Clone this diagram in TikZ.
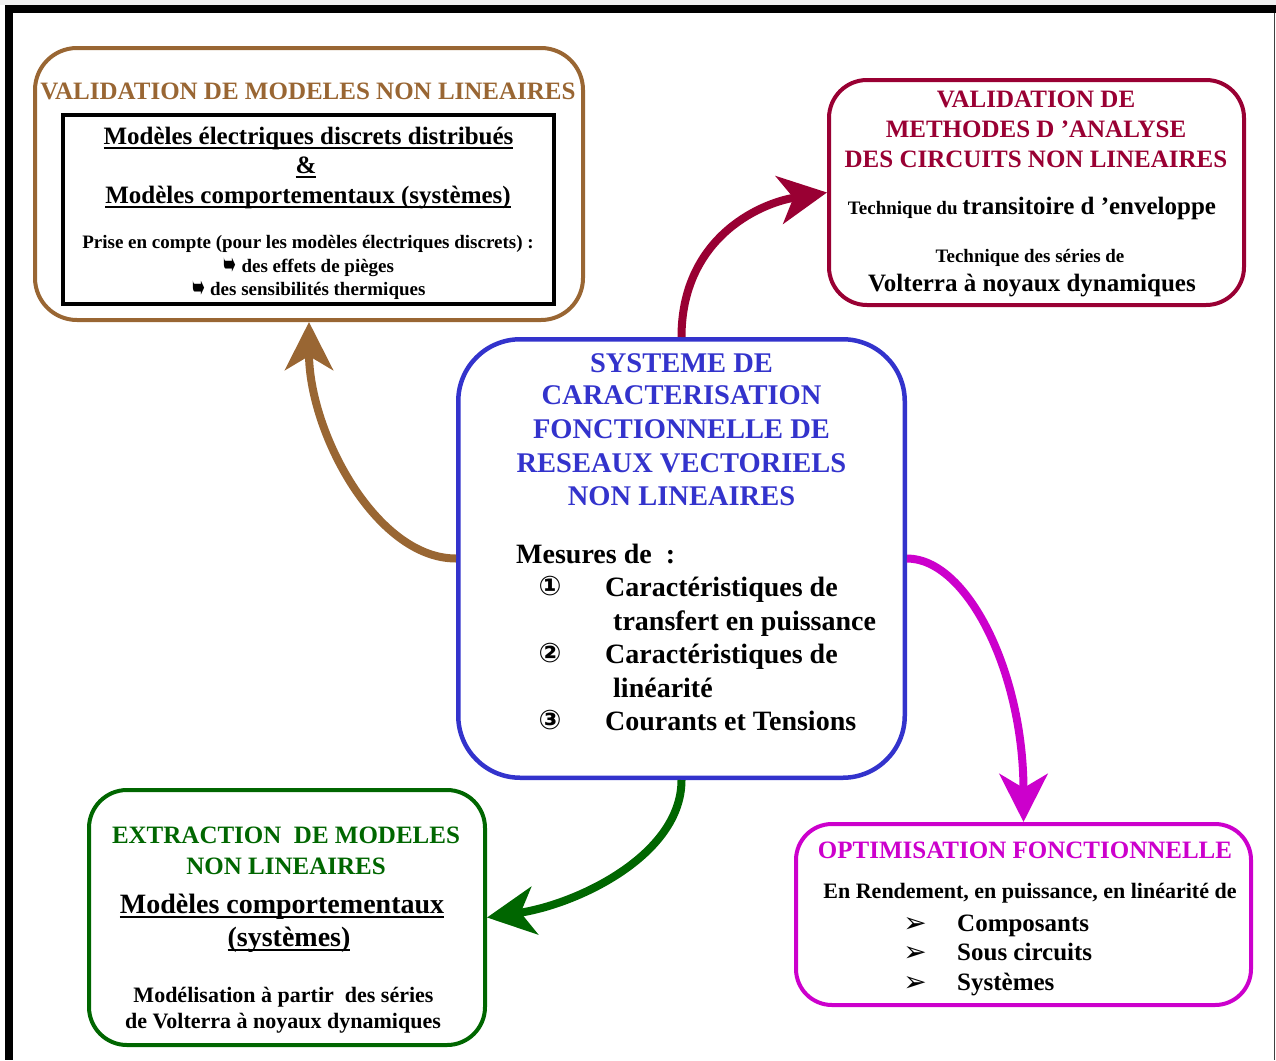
\documentclass[tikz,border=0pt]{standalone}
\usepackage{fontspec}
\usepackage{graphicx}
\setmainfont{Liberation Serif}
\newfontfamily\dvs{DejaVu Sans}
\usetikzlibrary{arrows.meta}
\definecolor{brownc}{RGB}{153,102,51}
\definecolor{redc}{RGB}{153,0,51}
\definecolor{bluec}{RGB}{51,51,204}
\definecolor{greenc}{RGB}{0,102,0}
\definecolor{magc}{RGB}{204,0,204}
\newcommand\fs[1]{\fontsize{#1}{#1}\selectfont}
\newcommand\myul[1]{\setbox0=\hbox{#1}\rlap{\rule[-4.5pt]{\wd0}{2pt}}\box0}
\newcommand\hook{{\dvs\bfseries\fs{22}\raisebox{-3pt}{\scalebox{0.7}[1.5]{➥}}}}
\tikzset{
  box/.style={draw, rounded corners=#1, line width=4pt, inner sep=0pt},
  s19/.style={inner sep=0pt, anchor=base, font=\bfseries\fs{19}},
  s22/.style={inner sep=0pt, anchor=base, font=\bfseries\fs{22}},
  s25/.style={inner sep=0pt, anchor=base, font=\bfseries\fs{25}},
  s28/.style={inner sep=0pt, anchor=base, font=\bfseries\fs{28}},
  s28w/.style={inner sep=0pt, anchor=base west, font=\bfseries\fs{28}},
  s25w/.style={inner sep=0pt, anchor=base west, font=\bfseries\fs{25}},
  btitle/.style={inner sep=0pt, anchor=base, font=\bfseries\fs{28.5}, text=bluec},
  num/.style={inner sep=0pt, anchor=base, font=\dvs\bfseries\fs{27}},
  arr/.style={inner sep=0pt, anchor=base, font=\dvs\bfseries\fs{28}},
  conn/.style={line width=8pt, -{Stealth[length=48pt,width=48pt,inset=14pt]}},
}
\begin{document}
\begin{tikzpicture}[x=1pt,y=-1pt]
\useasboundingbox (0,0) rectangle (1276,1060);
% frame
\fill[gray!12] (0,0) rectangle (1276,5);
\fill[black] (5,5) rectangle (1276,13);
\fill[black] (5,5) rectangle (13,1060);
\draw[line width=1.5pt, black!75] (1274.5,13) -- (1274.5,1060);

% boxes
\node[box=42pt, draw=brownc, minimum width=548pt, minimum height=272pt] (brown) at (309,184) {};
\node[draw=black, line width=4pt, inner sep=0pt, minimum width=491pt, minimum height=189pt] (inner) at (308.5,209.5) {};
\node[box=38pt, draw=redc, minimum width=415pt, minimum height=225pt] (red) at (1036.5,192.5) {};
\node[box=62pt, draw=bluec, line width=4.5pt, minimum width=446.5pt, minimum height=438.5pt] (blue) at (681.5,558.5) {};
\node[box=38pt, draw=greenc, minimum width=396pt, minimum height=255pt] (green) at (287,917.5) {};
\node[box=36pt, draw=magc, minimum width=455pt, minimum height=181pt] (mag) at (1023.5,914.5) {};

% brown box texts
\node[s25, text=brownc] (tb0) at (308,99) {VALIDATION DE MODELES NON LINEAIRES};
\node[s25] (tb1) at (308.5,144) {\myul{Modèles électriques discrets distribués}};
\node[s25] (tb2) at (306,173) {\myul{\&}};
\node[s25] (tb3) at (308,203) {\myul{Modèles comportementaux (systèmes)}};
\node[s19] (tb4) at (308,248) {Prise en compte (pour les modèles électriques discrets) :};
\node[s19] (tb5) at (309,272) {\hook\ des effets de pièges};
\node[s19] (tb6) at (309,295) {\hook\ des sensibilités thermiques};

% red box texts
\node[s25, text=redc] (tr0) at (1036,107) {VALIDATION DE};
\node[s25, text=redc] (tr1) at (1036,137) {METHODES D ’ANALYSE};
\node[s25, text=redc] (tr2) at (1036,167) {DES CIRCUITS NON LINEAIRES};
\node[s19] (tr3) at (1032,214) {Technique du {\fs{25}transitoire d ’enveloppe}};
\node[s19] (tr4) at (1030,262) {Technique des séries de};
\node[s25] (tr5) at (1032,291) {Volterra à noyaux dynamiques};

% blue box texts
\node[btitle] (tc0) at (681.5,372) {SYSTEME DE};
\node[btitle] (tc1) at (681.5,404) {CARACTERISATION};
\node[btitle] (tc2) at (681.5,438) {FONCTIONNELLE DE};
\node[btitle] (tc3) at (681.5,472) {RESEAUX VECTORIELS};
\node[btitle] (tc4) at (681.5,505) {NON LINEAIRES};
\node[s28w] (tm) at (516,563) {Mesures de\ \ :};
\node[num] (n1) at (550,595) {①};
\node[s28w] (c1a) at (605,596) {Caractéristiques de};
\node[s28w] (c1b) at (613,630) {transfert en puissance};
\node[num] (n2) at (550,662) {②};
\node[s28w] (c2a) at (605,663) {Caractéristiques de};
\node[s28w] (c2b) at (613,697) {linéarité};
\node[num] (n3) at (550,729) {③};
\node[s28w] (c3a) at (605,730) {Courants et Tensions};

% green box texts
\node[s25, text=greenc] (tg0) at (286,843) {EXTRACTION\ \ DE MODELES};
\node[s25, text=greenc] (tg1) at (286,874) {NON LINEAIRES};
\node[s28] (tg2) at (282,913) {\myul{Modèles comportementaux}};
\node[s28] (tg3) at (289,946) {\myul{(systèmes)}};
\node[s22] (tg4) at (283.5,1002) {Modélisation à partir\ \ des séries};
\node[s22] (tg5) at (283,1028) {de Volterra à noyaux dynamiques};

% magenta box texts
\node[s25, text=magc] (tm0) at (1025,858) {OPTIMISATION FONCTIONNELLE};
\node[s22] (tm1) at (1030,898) {En Rendement, en puissance, en linéarité de};
\node[arr] (a1) at (915,932) {➢};
\node[s25w] (m1) at (957,931) {Composants};
\node[arr] (a2) at (915,961) {➢};
\node[s25w] (m2) at (957,960) {Sous circuits};
\node[arr] (a3) at (915,991) {➢};
\node[s25w] (m3) at (957,990) {Systèmes};

% connectors
\draw[conn, brownc] (blue.west) .. controls +(-80,0) and +(0,110) .. (brown.south);
\draw[conn, redc] (blue.north) .. controls +(0,-97) and +(-70,11) .. (red.west);
\draw[conn, magc] (blue.east) .. controls +(60,0) and +(0,-150) .. (mag.north);
\draw[conn, greenc] (blue.south) .. controls +(0,75) and +(90,-13) .. (green.east);
\end{tikzpicture}
\end{document}
